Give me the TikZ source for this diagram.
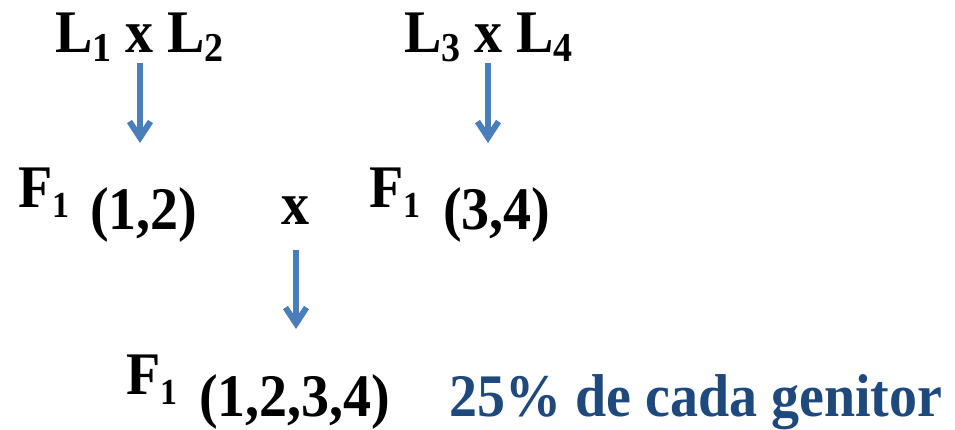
\documentclass[tikz,border=0pt]{standalone}
\usepackage{fontspec}
\setmainfont{Liberation Serif}
\usetikzlibrary{arrows.meta}
\definecolor{arrowblue}{RGB}{74,126,187}
\definecolor{textblue}{RGB}{31,73,125}
\newcommand{\subtop}[1]{\raisebox{-9pt}{\fontsize{38}{40}\selectfont #1}}
\newcommand{\submid}[1]{\raisebox{-10pt}{\fontsize{34}{36}\selectfont #1}}
\begin{document}
\begin{tikzpicture}[x=1pt,y=-1pt,
  lbl/.style={anchor=base west,inner sep=0pt,font=\fontsize{56}{62}\selectfont\bfseries,yscale=1.08},
  arr/.style={draw=arrowblue,line width=6pt,-{Straight Barb[length=16pt,width=21pt,line width=6pt]}}]
\useasboundingbox (0,0) rectangle (955,429);
\node[lbl] (p12) at (55,52) {L\subtop{1} x L\subtop{2}};
\node[lbl] (p34) at (404,52) {L\subtop{3} x L\subtop{4}};
\node[lbl] (f12) at (18,207) {F\submid{1}};
\node[lbl] (g12) at (90,229) {(1,2)};
\node[lbl] (cross) at (281,224) {x};
\node[lbl] (f34) at (369,207) {F\submid{1}};
\node[lbl] (g34) at (443,229) {(3,4)};
\node[lbl] (f1234) at (126,394) {F\submid{1}};
\node[lbl] (g1234) at (199,416) {(1,2,3,4)};
\node[lbl,text=textblue] (note) at (449,416) {25\% de cada genitor};
\coordinate (a1s) at (140,63); \coordinate (a1e) at (140,143);
\coordinate (a2s) at (488,63); \coordinate (a2e) at (488,143);
\coordinate (a3s) at (296,250); \coordinate (a3e) at (296,329);
\draw[arr] (a1s) -- (a1e);
\draw[arr] (a2s) -- (a2e);
\draw[arr] (a3s) -- (a3e);
\end{tikzpicture}
\end{document}
